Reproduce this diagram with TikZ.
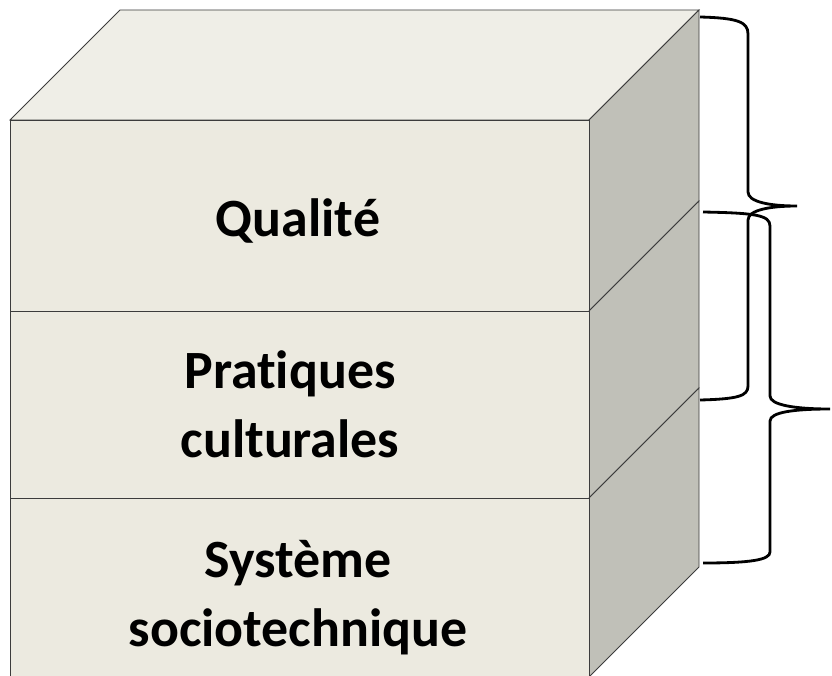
\documentclass[tikz,border=0pt]{standalone}
\usepackage{fontspec}
\setmainfont{Carlito}[RawFeature=-liga]
\definecolor{frontcol}{RGB}{236,234,224}
\definecolor{topcol}{RGB}{239,238,231}
\definecolor{sidecol}{RGB}{192,192,184}
\definecolor{edgecol}{RGB}{60,60,60}
\tikzset{
    face/.style={draw=edgecol,line width=0.7pt,line join=miter},
    layertext/.style={align=center,font=\fontsize{46}{59}\selectfont\bfseries},
    brace/.style={draw=black,line width=2.4pt},
}

\begin{document}
\begin{tikzpicture}[x=0.3mm,y=-0.3mm]
    \useasboundingbox (0,0) rectangle (832,675);
    % top face
    \draw[face,fill=topcol] (10,120) -- (120,10) -- (699,10) -- (589,120) -- cycle;
    % layers: side and front
    \foreach \ya/\yb in {120/311,311/498,498/677}{
        \draw[face,fill=sidecol] (589,\ya) -- (699,\ya-110) -- (699,\yb-110) -- (589,\yb) -- cycle;
        \draw[face,fill=frontcol] (10,\ya) rectangle (589,\yb);
    }

    \node[layertext] (qualite) at (298,221) {Qualité};
    \node[layertext] (pratiques) at (290,404) {Pratiques\\culturales};
    \node[layertext] (systeme) at (298,598) {Système\\sociotechnique};

    % braces
    \coordinate (braceAtop) at (700,17);
    \coordinate (braceAtip) at (797,206);
    \coordinate (braceAbot) at (700,400);
    \coordinate (braceBtop) at (703,212);
    \coordinate (braceBtip) at (830,409);
    \coordinate (braceBbot) at (703,563);
    \draw[brace] (braceAtop) .. controls (738,18) and (748,22) .. (748,34) -- (748,192)
        .. controls (748,202) and (770,206) .. (braceAtip)
        .. controls (770,206) and (748,210) .. (748,220) -- (748,386)
        .. controls (748,396) and (738,399) .. (braceAbot);
    \draw[brace] (braceBtop) .. controls (755,213) and (770,215) .. (770,226) -- (770,396)
        .. controls (770,405) and (795,409) .. (braceBtip)
        .. controls (795,409) and (770,412) .. (770,421) -- (770,552)
        .. controls (770,560) and (750,563) .. (braceBbot);
\end{tikzpicture}
\end{document}
